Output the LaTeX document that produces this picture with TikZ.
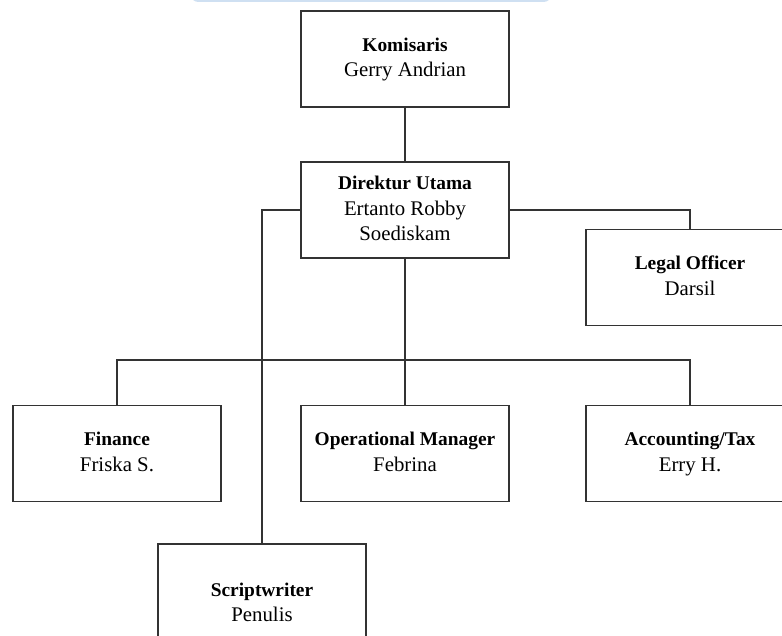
\documentclass[tikz,border=0pt]{standalone}
\usepackage{fontspec}
\setmainfont{Liberation Serif}
\usetikzlibrary{calc}
\definecolor{bandblue}{HTML}{CFE0F2}
\definecolor{boxline}{HTML}{333333}
\newcommand{\jabatan}[1]{\textbf{\fontsize{13.8}{18.2}\selectfont\strut #1}}
\newcommand{\nama}[1]{{\fontsize{14.8}{18.2}\selectfont\strut #1}}

\begin{document}
\begin{tikzpicture}[x=0.025cm,y=-0.025cm,
    jab/.style={draw=boxline,line width=0.9pt,minimum width=5.2cm,minimum height=2.4cm,inner sep=0pt,align=center,font=\fontsize{13.8}{18.2}\selectfont},
    link/.style={draw=boxline,line width=0.9pt}]
            \useasboundingbox (0,0) rectangle (782,636);
            \clip (0,0) rectangle (782,636);
            \fill[bandblue, rounded corners=6] (190,-20) rectangle (552,2);

            \draw (405,59) node[jab](kom){\jabatan{Komisaris}\\\nama{Gerry Andrian}};
            \draw (405,210) node[jab](dir){\jabatan{Direktur Utama}\\\nama{Ertanto Robby}\\\nama{Soediskam}};
            \draw (690,277.5) node[jab](legal){\jabatan{Legal Officer}\\\nama{Darsil}};
            \draw (117,453.5) node[jab](fin){\jabatan{Finance}\\\nama{Friska S.}};
            \draw (405,453.5) node[jab](ops){\jabatan{Operational Manager}\\\nama{Febrina}};
            \draw (690,453.5) node[jab](acc){\jabatan{Accounting/Tax}\\\nama{Erry H.}};
            \draw (262,604) node[jab,minimum height=3cm](script){\jabatan{Scriptwriter}\\\nama{Penulis}};
            \coordinate (bus) at (405,360);

            \begin{scope}[link]
                \path (kom) edge (dir);
                \path (dir) edge (ops);
                \draw (dir.west) -| (script.north);
                \draw (dir.east) -| (legal.north);
                \draw (fin.north) |- (bus) -| (acc.north);
            \end{scope}
        \end{tikzpicture}
\end{document}
